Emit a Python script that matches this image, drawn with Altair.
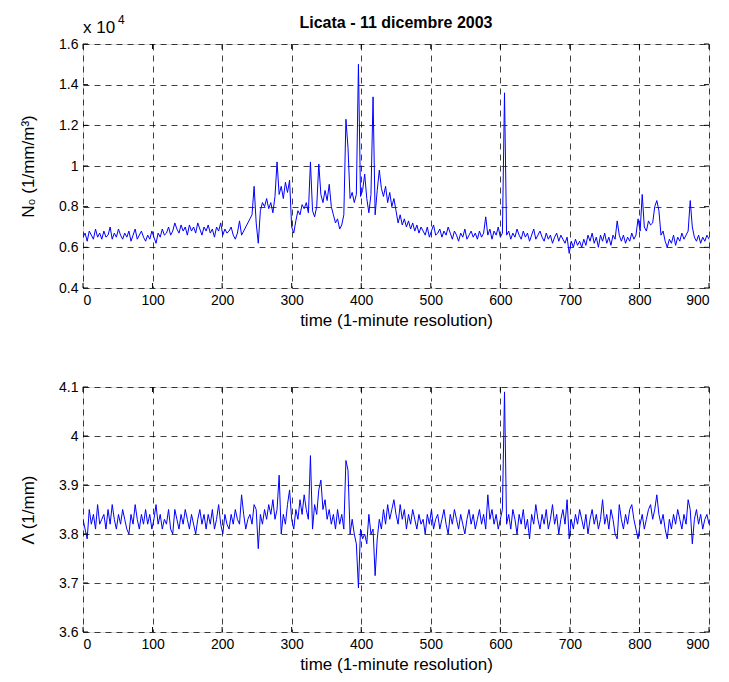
import altair as alt
import pandas as pd

# time axis: one reading every 3 minutes
minutes = list(range(0, 901, 3))

# N0 in units of 10^4 (1/mm/m^3)
n0 = [
    0.65, 0.67, 0.63, 0.68, 0.66, 0.64, 0.69, 0.65, 0.67, 0.64,
    0.68, 0.65, 0.66, 0.70, 0.64, 0.67, 0.65, 0.69, 0.66, 0.64,
    0.67, 0.65, 0.68, 0.63, 0.66, 0.69, 0.64, 0.66, 0.68, 0.65,
    0.63, 0.66, 0.64, 0.68, 0.65, 0.62, 0.67, 0.65, 0.69, 0.66,
    0.67, 0.70, 0.66, 0.68, 0.72, 0.69, 0.67, 0.71, 0.68, 0.70,
    0.66, 0.71, 0.68, 0.70, 0.67, 0.72, 0.69, 0.66, 0.70, 0.68,
    0.71, 0.67, 0.69, 0.65, 0.70, 0.68, 0.72, 0.66, 0.69, 0.67,
    0.68, 0.70, 0.66, 0.64, 0.67, 0.73, 0.66, 0.68, 0.70, 0.72,
    0.74, 0.76, 0.90, 0.72, 0.62, 0.78, 0.82, 0.80, 0.84, 0.79,
    0.82, 0.77, 0.85, 1.02, 0.86, 0.90, 0.84, 0.92, 0.87, 0.93,
    0.70, 0.67, 0.73, 0.78, 0.76, 0.81, 0.79, 0.82, 0.77, 1.02,
    0.78, 0.75, 0.80, 1.01, 0.86, 0.82, 0.88, 0.83, 0.91, 0.80,
    0.76, 0.72, 0.74, 0.69, 0.71, 0.76, 1.23, 1.09, 0.84, 0.87,
    0.82, 0.86, 1.50, 0.85, 0.88, 0.96, 0.84, 0.77, 0.86, 1.34,
    0.76, 0.88, 0.98, 0.89, 0.85, 0.90, 0.82, 0.87, 0.80, 0.84,
    0.78, 0.72, 0.76, 0.71, 0.74, 0.70, 0.73, 0.69, 0.72, 0.68,
    0.71, 0.67, 0.70, 0.68, 0.66, 0.70, 0.65, 0.68, 0.71, 0.66,
    0.67, 0.69, 0.65, 0.68, 0.66, 0.70, 0.67, 0.64, 0.68, 0.66,
    0.63, 0.67, 0.65, 0.69, 0.64, 0.66, 0.68, 0.65, 0.67, 0.64,
    0.68, 0.65, 0.67, 0.75, 0.66, 0.69, 0.64, 0.68, 0.66, 0.70,
    0.65, 0.67, 1.36, 0.66, 0.68, 0.64, 0.67, 0.65, 0.69, 0.66,
    0.64, 0.68, 0.65, 0.67, 0.63, 0.66, 0.69, 0.64, 0.66, 0.68,
    0.65, 0.63, 0.67, 0.64, 0.66, 0.62, 0.65, 0.67, 0.63, 0.66,
    0.64, 0.62, 0.65, 0.57, 0.63, 0.60, 0.64, 0.61, 0.63, 0.60,
    0.64, 0.61, 0.66, 0.63, 0.67, 0.62, 0.65, 0.60, 0.66, 0.63,
    0.67, 0.62, 0.65, 0.61, 0.66, 0.64, 0.73, 0.66, 0.63, 0.66,
    0.62, 0.65, 0.63, 0.67, 0.64, 0.66, 0.74, 0.68, 0.86, 0.70,
    0.68, 0.73, 0.71, 0.72, 0.80, 0.83, 0.78, 0.66, 0.68, 0.63,
    0.60, 0.64, 0.62, 0.66, 0.61, 0.65, 0.63, 0.67, 0.64, 0.66,
    0.68, 0.83, 0.70, 0.65, 0.63, 0.66, 0.62, 0.65, 0.63, 0.66,
    0.64,
]

# Lambda (1/mm)
lam = [
    3.83, 3.81, 3.79, 3.85, 3.82, 3.84, 3.81, 3.86, 3.82, 3.83,
    3.84, 3.81, 3.85, 3.82, 3.86, 3.83, 3.81, 3.84, 3.82, 3.85,
    3.83, 3.81, 3.80, 3.84, 3.82, 3.86, 3.83, 3.81, 3.84, 3.82,
    3.85, 3.82, 3.84, 3.81, 3.83, 3.86, 3.82, 3.84, 3.81, 3.83,
    3.82, 3.85, 3.81, 3.80, 3.85, 3.83, 3.81, 3.84, 3.82, 3.85,
    3.83, 3.81, 3.84, 3.82, 3.80, 3.83, 3.85, 3.82, 3.84, 3.81,
    3.84, 3.82, 3.85, 3.81, 3.83, 3.86, 3.82, 3.80, 3.84, 3.82,
    3.81, 3.84, 3.82, 3.85, 3.83, 3.82, 3.88, 3.84, 3.81, 3.83,
    3.84, 3.82, 3.86, 3.85, 3.77, 3.84, 3.82, 3.85, 3.83, 3.86,
    3.84, 3.87, 3.83, 3.85, 3.92, 3.80, 3.84, 3.82, 3.86, 3.89,
    3.83, 3.81, 3.85, 3.83, 3.87, 3.84, 3.88, 3.85, 3.83, 3.96,
    3.81, 3.86, 3.84, 3.89, 3.91, 3.85, 3.87, 3.83, 3.85, 3.82,
    3.84, 3.81, 3.85, 3.82, 3.84, 3.81, 3.95, 3.93, 3.80, 3.83,
    3.80, 3.78, 3.69, 3.81, 3.79, 3.80, 3.78, 3.84, 3.80, 3.81,
    3.715, 3.79, 3.83, 3.81, 3.85, 3.82, 3.86, 3.83, 3.85, 3.87,
    3.84, 3.82, 3.86, 3.83, 3.85, 3.81, 3.84, 3.82, 3.85, 3.83,
    3.81, 3.84, 3.82, 3.83, 3.80, 3.84, 3.82, 3.85, 3.81, 3.83,
    3.84, 3.81, 3.83, 3.85, 3.82, 3.80, 3.84, 3.82, 3.85, 3.83,
    3.81, 3.84, 3.82, 3.80, 3.83, 3.85, 3.82, 3.84, 3.81, 3.83,
    3.85, 3.82, 3.84, 3.81, 3.88, 3.83, 3.85, 3.82, 3.84, 3.81,
    3.83, 3.85, 4.09, 3.82, 3.84, 3.81, 3.85, 3.83, 3.80, 3.84,
    3.82, 3.85, 3.81, 3.83, 3.79, 3.84, 3.82, 3.86, 3.83, 3.81,
    3.84, 3.82, 3.85, 3.81, 3.83, 3.86, 3.82, 3.84, 3.80, 3.83,
    3.85, 3.82, 3.87, 3.79, 3.83, 3.81, 3.84, 3.82, 3.85, 3.83,
    3.81, 3.84, 3.80, 3.83, 3.85, 3.82, 3.84, 3.81, 3.83, 3.87,
    3.82, 3.84, 3.81, 3.85, 3.83, 3.80, 3.79, 3.86, 3.83, 3.81,
    3.84, 3.82, 3.85, 3.86, 3.83, 3.81, 3.79, 3.82, 3.84, 3.81,
    3.83, 3.85, 3.86, 3.83, 3.85, 3.88, 3.84, 3.82, 3.84, 3.81,
    3.79, 3.83, 3.81, 3.84, 3.82, 3.85, 3.83, 3.81, 3.84, 3.82,
    3.87, 3.85, 3.78, 3.83, 3.85, 3.82, 3.84, 3.81, 3.83, 3.84,
    3.82,
]

x_ticks = [0, 100, 200, 300, 400, 500, 600, 700, 800, 900]
n0_ticks = [0.4, 0.6, 0.8, 1.0, 1.2, 1.4, 1.6]
n0_labels = ["0.4", "0.6", "0.8", "1", "1.2", "1.4", "1.6"]
lam_ticks = [3.6, 3.7, 3.8, 3.9, 4.0, 4.1]
lam_labels = ["3.6", "3.7", "3.8", "3.9", "4", "4.1"]

title_text = "Licata - 11 dicembre 2003"
x_title = "time (1-minute resolution)"
n0_title = "N\u2080 (1/mm/m\u00b3)"
lam_title = "\u039b (1/mm)"
exp_base = "x 10"
exp_power = "4"

df = pd.DataFrame({"t": minutes, "n0": n0, "lam": lam})

FONT = "Liberation Sans"
W = 626
H1 = 244
H2 = 245
TICK_FS = 14
TITLE_FS = 17


def label_expr(ticks, labels):
    parts = []
    for v, s in zip(ticks, labels):
        parts.append(f"abs(datum.value - {v}) < 1e-6 ? '{s}'")
    return " : ".join(parts) + " : ''"


def panel(field, domain, yticks, ylabels, ytitle, h):
    x_enc = alt.X(
        "t:Q",
        scale=alt.Scale(domain=[0, 900], nice=False, zero=False),
        axis=alt.Axis(
            values=x_ticks, title=x_title, format="d",
            grid=True, gridDash=[6, 5], gridColor="#000000", gridOpacity=0.75,
            ticks=False, domain=False, labelPadding=5, titlePadding=5,
            labelFontSize=TICK_FS, titleFontSize=TITLE_FS, labelFont=FONT, titleFont=FONT,
            labelColor="#000000", titleColor="#000000", titleFontWeight="normal",
        ),
    )
    y_enc = alt.Y(
        f"{field}:Q",
        scale=alt.Scale(domain=domain, nice=False, zero=False),
        axis=alt.Axis(
            values=yticks, title=ytitle, labelExpr=label_expr(yticks, ylabels),
            grid=True, gridDash=[6, 5], gridColor="#000000", gridOpacity=0.75,
            ticks=False, domain=False, labelPadding=5, titlePadding=21,
            labelFontSize=TICK_FS, titleFontSize=TITLE_FS, labelFont=FONT, titleFont=FONT,
            labelColor="#000000", titleColor="#000000", titleFontWeight="normal",
        ),
    )
    line = alt.Chart(df).mark_line(color="#0000ff", strokeWidth=1, clip=True).encode(
        x=x_enc, y=y_enc
    )
    xt = pd.DataFrame({"v": x_ticks})
    yt = pd.DataFrame({"v": yticks})
    tick_bot = alt.Chart(xt).mark_rule(color="black", strokeWidth=1).encode(
        x=alt.X("v:Q"), y=alt.value(h), y2=alt.value(h - 5))
    tick_top = alt.Chart(xt).mark_rule(color="black", strokeWidth=1).encode(
        x=alt.X("v:Q"), y=alt.value(0), y2=alt.value(5))
    tick_l = alt.Chart(yt).mark_rule(color="black", strokeWidth=1).encode(
        y=alt.Y("v:Q"), x=alt.value(0), x2=alt.value(5))
    tick_r = alt.Chart(yt).mark_rule(color="black", strokeWidth=1).encode(
        y=alt.Y("v:Q"), x=alt.value(W - 5), x2=alt.value(W))
    return alt.layer(line, tick_bot, tick_top, tick_l, tick_r).properties(width=W, height=h)


top = panel("n0", [0.4, 1.6], n0_ticks, n0_labels, n0_title, H1)

t_df = pd.DataFrame({"txt": [title_text]})
title_mark = alt.Chart(t_df).mark_text(
    font=FONT, fontSize=16, fontWeight="bold", color="black", align="center", baseline="middle"
).encode(text="txt:N", x=alt.value(W / 2), y=alt.value(-21))
e1 = alt.Chart(pd.DataFrame({"txt": [exp_base]})).mark_text(
    font=FONT, fontSize=17, color="black", align="left", baseline="middle"
).encode(text="txt:N", x=alt.value(0), y=alt.value(-16))
e2 = alt.Chart(pd.DataFrame({"txt": [exp_power]})).mark_text(
    font=FONT, fontSize=12, color="black", align="left", baseline="middle"
).encode(text="txt:N", x=alt.value(35), y=alt.value(-24))

top = alt.layer(top, title_mark, e1, e2)
bottom = panel("lam", [3.6, 4.1], lam_ticks, lam_labels, lam_title, H2)

chart = alt.vconcat(top, bottom, spacing=99, bounds="flush").properties(
    padding={"left": 11, "top": 5, "right": 5, "bottom": 5}
).configure_view(stroke="black", strokeWidth=1).configure(background="white")

chart.save("out.html", embed_options={"renderer": "svg", "actions": False})
